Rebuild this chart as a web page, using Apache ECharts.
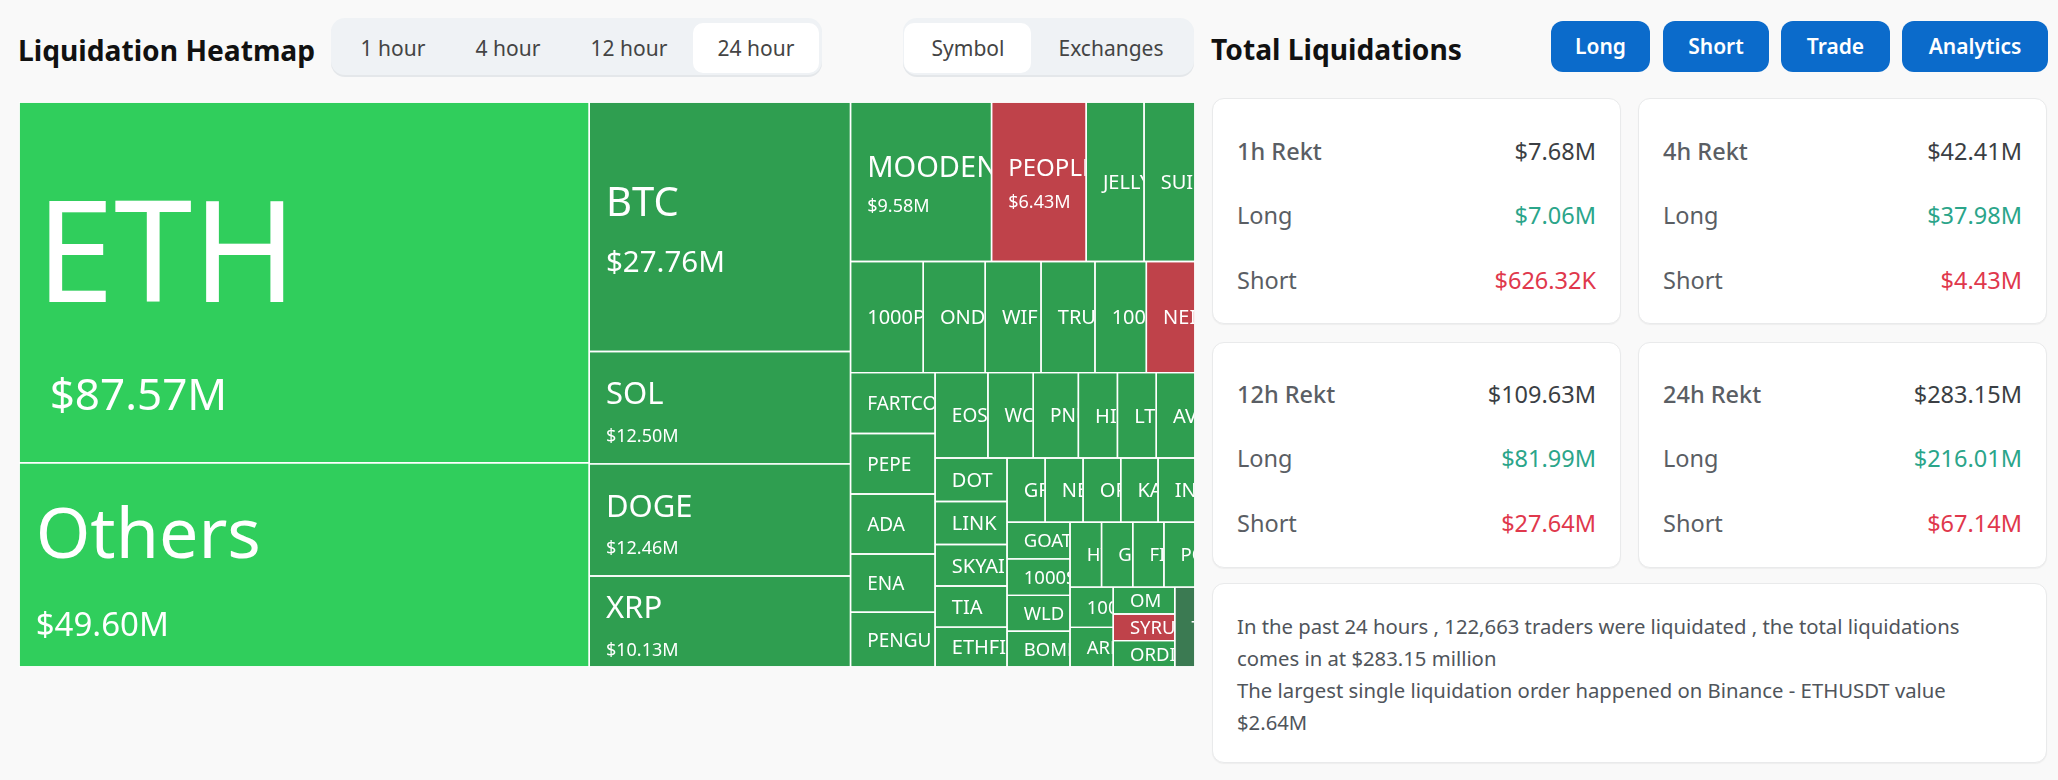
<!DOCTYPE html>
<html><head><meta charset="utf-8">
<script src="https://cdn.jsdelivr.net/npm/echarts@6/dist/echarts.min.js"></script>
<style>
html,body{margin:0;padding:0;background:#f9f9f9;}
body{width:2058px;height:780px;position:relative;overflow:hidden;font-family:"Noto Sans",sans-serif;color:#444;}
.abs{position:absolute;}
.title{font-weight:700;font-size:28.2px;color:#111;line-height:40px;white-space:nowrap;}
.tabs{background:#eff2f5;border-radius:14px;box-shadow:0 2px 0 #e4e7ea;}
.tab{position:absolute;height:50px;line-height:50px;font-size:21px;text-align:center;color:#444;white-space:nowrap;transform:translateX(-50%);}
.active{background:#fff;border-radius:10px;}
.btn{background:#0b6bcb;color:#fff;border-radius:12px;font-weight:600;font-size:21px;text-align:center;line-height:51px;height:51px;}
.card{background:#fff;border:1px solid #e9eaeb;border-radius:12px;box-sizing:border-box;box-shadow:0 1px 1px #eee;}
.row{position:absolute;left:24px;right:24px;height:40px;line-height:40px;font-size:23.5px;}
.row .l{position:absolute;left:0;color:#5a5e64;}
.row .r{position:absolute;right:0;color:#3b3f44;}
.row .l.head{font-weight:500;}
.long{color:#2ba58a !important}.short{color:#e0384c !important}
.para{font-size:20.3px;line-height:32px;color:#50555b;}
#chart{position:absolute;left:18.5px;top:101.5px;width:1176px;height:565px;}
</style></head><body>
<div class="abs title" style="left:18px;top:30px" id="t1"></div>
<div class="abs tabs" style="left:331px;top:18px;width:491px;height:57px"></div>
<div class="abs active" style="left:693px;top:23px;width:126px;height:50px"></div>
<div class="abs tabs" style="left:903px;top:18px;width:291px;height:57px"></div>
<div class="abs active" style="left:904px;top:23px;width:127px;height:50px"></div>
<div id="tabs"></div>
<div id="chart"></div>
<div class="abs title" style="left:1211px;top:29px" id="t2"></div>
<div id="btns"></div>
<div id="cards"></div>
<div class="abs card para" style="left:1212px;top:583px;width:835px;height:180px;padding:26px 50px 27px 24px" id="para"></div>
<script>
// ---- data ----
const heatmapTitle = "Liquidation Heatmap";
const statsTitle = "Total Liquidations";
const timeTabs = ["1 hour","4 hour","12 hour","24 hour"];
const viewTabs = ["Symbol","Exchanges"];
const buttons = ["Long","Short","Trade","Analytics"];
const symbols = ["ETH","Others","BTC","SOL","DOGE","XRP","MOODENG","PEOPLE","JELLY","SUI","1000PEPE","ONDO","WIF","TRUMP","1000BONK","NEIRO","FARTCOIN","PEPE","ADA","ENA","PENGU","EOS","WCT","PNUT","HIPPO","LTC","AVAX","DOT","LINK","SKYAI","TIA","ETHFI","GRT","NEAR","OP","KAITO","INJ","GOAT","1000SATS","WLD","BOME","HYPE","GMT","FIL","POPCAT","1000FLOKI","ARB","OM","SYRUP","ORDI","TAO"];
const amounts = [87.57,49.60,27.76,12.50,12.46,10.13,9.58,6.43,3.93,3.46,3.44,2.93,2.64,2.55,2.43,2.30,2.19,2.18,2.16,2.10,1.97,1.92,1.65,1.64,1.42,1.412,1.408,1.33,1.32,1.27,1.26,1.22,1.042,1.038,1.03,1.02,1.01,0.982,0.978,0.962,0.958,0.87,0.862,0.86,0.858,0.74,0.73,0.702,0.698,0.692,0.688];
const shortHeavy = ["PEOPLE","NEIRO","SYRUP"];
const neutral = ["TAO"];
const statHeads = ["1h Rekt","4h Rekt","12h Rekt","24h Rekt"];
const statTotals = ["$7.68M","$42.41M","$109.63M","$283.15M"];
const statLongs = ["$7.06M","$37.98M","$81.99M","$216.01M"];
const statShorts = ["$626.32K","$4.43M","$27.64M","$67.14M"];
const summary = ["In the past 24 hours , 122,663 traders were liquidated , the total liquidations comes in at $283.15 million","The largest single liquidation order happened on Binance - ETHUSDT value $2.64M"];

// ---- page furniture ----
document.getElementById('t1').textContent = heatmapTitle;
document.getElementById('t2').textContent = statsTitle;
const tabCentres=[393,508,629,756,968,1111];
document.getElementById('tabs').innerHTML = timeTabs.concat(viewTabs).map((t,i)=>`<div class="tab" style="left:${tabCentres[i]}px;top:23px">${t}</div>`).join('');
const btnBoxes=[[1551,99],[1663,106],[1781,109],[1902,146]];
document.getElementById('btns').innerHTML = buttons.map((b,i)=>`<div class="abs btn" style="left:${btnBoxes[i][0]}px;top:21px;width:${btnBoxes[i][1]}px">${b}</div>`).join('');
const cardBoxes=[[1212,98],[1638,98],[1212,342],[1638,342]];
document.getElementById('cards').innerHTML = statHeads.map((h,i)=>{const o=i<2?0:-1;return `<div class="abs card" style="left:${cardBoxes[i][0]}px;top:${cardBoxes[i][1]}px;width:409px;height:226px">
<div class="row" style="top:${32+o}px"><span class="l head">${h}</span><span class="r">${statTotals[i]}</span></div>
<div class="row" style="top:${96+o}px"><span class="l">Long</span><span class="r long">${statLongs[i]}</span></div>
<div class="row" style="top:${161+o}px"><span class="l">Short</span><span class="r short">${statShorts[i]}</span></div></div>`;}).join('');
document.getElementById('para').innerHTML = summary.join('<br>');

// ---- treemap ----
function nameSize(v){ if(v>=80)return 141; if(v>=40)return 70; if(v>=20)return 40; if(v>=9.9)return 31; if(v>=9)return 29; if(v>=6)return 24; if(v>=1.5&&v<2.3)return 19; if(v<1)return 18.5; return 20; }
function valueSize(v){ if(v>=80)return 44; if(v>=40)return 33; if(v>=20)return 29.5; return 18; }
function nameLead(v){ if(v>=80)return 1.63; if(v>=40)return 1.76; if(v>=20)return 1.82; if(v>=9.9)return 1.87; return 1.72; }
function valueLead(v){ if(v>=80)return 0.95; if(v>=40)return 1.6; if(v>=20)return 1.5; if(v>=9.9)return 1.35; return 1.45; }
function colorOf(n,v){ if(shortHeavy.includes(n))return '#bf424a'; if(neutral.includes(n))return '#3b7a52'; return v>=40?'#30ce5c':'#2f9e50'; }
const nodes = symbols.map((n,i)=>{
  const v=amounts[i], showValue=v>=6, big=v>=80;
  return {name:n,value:v,itemStyle:{color:colorOf(n,v)},
    label:{padding:[showValue?0:3,0,0,16],formatter: showValue?`{n|${n}}\n{v|$${v.toFixed(2)}M}`:`{n|${n}}`,
      rich:{n:{fontSize:nameSize(v),color:'#fff',fontFamily:'Noto Sans',lineHeight:nameSize(v)*nameLead(v)},
            v:{fontSize:valueSize(v),color:'#fff',fontFamily:'Noto Sans',padding:big?[0,0,0,14]:0,lineHeight:valueSize(v)*valueLead(v)}}}};
});
const chart = echarts.init(document.getElementById('chart'));
chart.setOption({animation:false,series:[{type:'treemap',left:0,top:0,right:0,bottom:0,roam:false,nodeClick:false,
  breadcrumb:{show:false},visibleMin:0,
  label:{show:true,position:'insideLeft',align:'left',verticalAlign:'middle',overflow:'none',distance:0},
  levels:[{itemStyle:{borderWidth:0,gapWidth:0,borderColor:'#fff'}},{itemStyle:{borderWidth:0.7,gapWidth:0,borderColor:'#fff'}}],
  data:nodes}]});
// keep each label centred on its own block, clipped to the block's edge
function clipLabels(){
  const zr=chart.getZr();
  zr.storage.getDisplayList(true).forEach(el=>{
    const t=el.getTextContent&&el.getTextContent();
    if(t&&el.shape&&!el.getClipPath()){
      t.beforeUpdate=function(){};
      t.setStyle({width:null,height:null});
      el.setClipPath(new echarts.graphic.Rect({shape:{x:el.shape.x,y:el.shape.y,width:el.shape.width,height:el.shape.height}}));
    }
  });
  zr.refresh();
}
clipLabels();
chart.on('finished',clipLabels);
</script></body></html>
